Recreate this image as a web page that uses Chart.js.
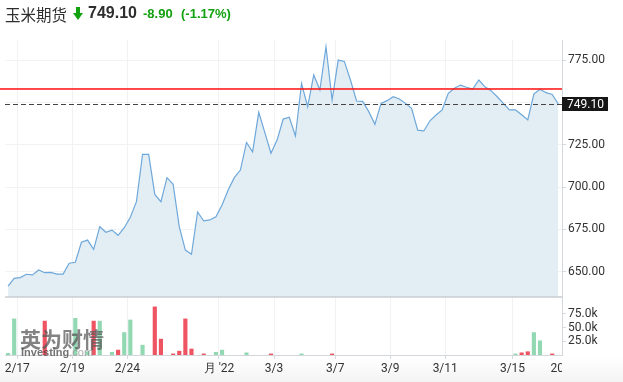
<!DOCTYPE html>
<html>
<head>
<meta charset="utf-8">
<script src="https://cdn.jsdelivr.net/npm/chart.js@4.4.1/dist/chart.umd.min.js"></script>
<style>
  html, body { margin: 0; padding: 0; background: #fff; }
  #wrap { position: relative; width: 623px; height: 382px; overflow: hidden;
          background: linear-gradient(to bottom, #fff 0, #fff 358px, #f3f3f3 382px); }
  canvas { position: absolute; left: 0; top: 0; }
  .hd { position: absolute; top: 4px; white-space: nowrap; }
  #name { left: 5px; top: 3px; font: 15.5px "Noto Sans CJK SC", sans-serif; color: #2e2e2e; }
  #arrow { position: absolute; left: 73px; top: 7px; }
  #last { left: 88px; top: 4px; font: bold 16px "Liberation Sans", Arial, sans-serif; color: #2e2e2e; }
  #chg { left: 143px; top: 6px; font: bold 13px "Liberation Sans", Arial, sans-serif; color: #12a10f; }
  #pct { left: 181px; top: 6px; font: bold 13px "Liberation Sans", Arial, sans-serif; color: #12a10f; }
  #wm1 { position: absolute; left: 20px; top: 323px; font: bold 21px "Noto Sans CJK SC", sans-serif; color: rgba(90,90,90,0.75); }
  #wm2 { position: absolute; left: 21px; top: 346px; font: bold 11px "Liberation Sans", Arial, sans-serif; color: rgba(70,70,70,0.75); }
  #wm2 span { font-weight: normal; color: rgba(140,140,140,0.7); }
</style>
</head>
<body>
<div id="wrap">
  <canvas id="chart" width="623" height="382"></canvas>
  <div class="hd" id="name">玉米期货</div>
  <svg id="arrow" width="10" height="13" viewBox="0 0 10 13"><path d="M3 0 H7 V6 H10 L5 13 L0 6 H3 Z" fill="#12a10f"/></svg>
  <div class="hd" id="last">749.10</div>
  <div class="hd" id="chg">-8.90</div>
  <div class="hd" id="pct">(-1.17%)</div>
  <div id="wm1">英为财情</div>
  <div id="wm2">Investing<span>.com</span></div>
</div>
<script>
// closing prices, one per bar
const prices = [
  641.5, 646.1, 646.5, 648.5, 648.1, 651.0, 649.4, 649.6, 648.6, 648.6,
  655.0, 655.6, 667.4, 668.7, 663.2, 676.6, 673.3, 674.6, 671.5, 676.0,
  682.2, 691.4, 719.4, 719.4, 695.7, 691.4, 705.6, 701.7, 676.6, 662.8,
  660.3, 685.3, 680.1, 680.6, 682.5, 689.4, 698.3, 705.6, 710.1, 726.4,
  720.9, 744.2, 732.2, 720.0, 727.8, 740.2, 741.3, 730.2, 761.3, 747.5,
  766.3, 757.4, 783.0, 751.5, 775.1, 774.3, 763.3, 750.9, 750.7, 744.6,
  737.1, 749.5, 751.1, 753.4, 752.1, 749.5, 746.6, 733.7, 733.2, 739.2,
  742.6, 745.6, 755.4, 758.4, 760.3, 759.0, 758.0, 763.3, 759.3, 757.0,
  753.4, 749.5, 745.6, 745.6, 742.8, 739.7, 755.0, 757.8, 755.8, 754.8,
  749.1
];
// volume per bar (0 = none)
const volumes = [
  3000, 66000, 0, 0, 0, 0, 62000, 0, 0, 0,
  0, 67000, 0, 6000, 62000, 62000, 0, 5000, 9000, 41000,
  64000, 0, 18000, 0, 88000, 29000, 0, 2000, 7000, 66000,
  11000, 0, 2000, 0, 5000, 9000, 0, 0, 0, 4000,
  0, 0, 0, 2000, 0, 0, 0, 0, 2000, 0,
  0, 0, 0, 2000, 0, 0, 0, 0, 0, 0,
  0, 0, 0, 0, 0, 0, 0, 0, 0, 0,
  0, 0, 0, 0, 0, 0, 0, 0, 0, 0,
  0, 0, 0, 2000, 4000, 6000, 41000, 26000, 0, 2000,
  0
];
const tickPos = [1.5, 10.5, 19.5, 34.5, 43.5, 53.5, 62.5, 71.5, 82.5];
const tickLabels = ['2/17', '2/19', '2/24', '月 \'22', '3/3', '3/7', '3/9', '3/11', '3/15'];
const priceTicks = [650, 675, 700, 725, 750, 775];
const volTicks = [25000, 50000, 75000];
const lastPrice = 749.10;
const prevClose = 758.00;

const upColor = '#92d8b3';
const downColor = '#ef5462';
const volColors = volumes.map((v, i) => (i === 0 || prices[i] >= prices[i - 1]) ? upColor : downColor);

const axisFont = { family: 'Roboto, "Liberation Sans", sans-serif', size: 12 };

const overlay = {
  id: 'overlay',
  afterDraw(chart) {
    const { ctx, chartArea, scales } = chart;
    const yP = scales.y;
    ctx.save();
    // panel separator
    ctx.fillStyle = '#c9cdd2';
    ctx.fillRect(chartArea.left, yP.bottom - 0.75, chartArea.right - chartArea.left, 1.5);
    // previous close
    const yr = yP.getPixelForValue(prevClose);
    ctx.fillStyle = '#ff1010';
    ctx.fillRect(0, yr - 0.75, chartArea.right, 1.5);
    // last price
    const yd = Math.round(yP.getPixelForValue(lastPrice)) + 0.5;
    ctx.strokeStyle = '#444';
    ctx.lineWidth = 1;
    ctx.setLineDash([5, 3]);
    ctx.beginPath();
    ctx.moveTo(chartArea.left, yd);
    ctx.lineTo(chartArea.right, yd);
    ctx.stroke();
    ctx.setLineDash([]);
    ctx.fillStyle = '#161616';
    ctx.fillRect(chartArea.right, yd - 7.5, 46, 14);
    ctx.fillStyle = '#fff';
    ctx.font = '12px Roboto, "Liberation Sans", sans-serif';
    ctx.textBaseline = 'middle';
    ctx.textAlign = 'left';
    ctx.fillText(lastPrice.toFixed(2), chartArea.right + 5, yd);
    // cut-off next date label
    ctx.beginPath();
    ctx.rect(0, chartArea.bottom, chartArea.right, 30);
    ctx.clip();
    ctx.fillStyle = '#333';
    ctx.textBaseline = 'top';
    ctx.fillText('20', chartArea.right - 11.5, chartArea.bottom + 8);
    ctx.restore();
  }
};

new Chart(document.getElementById('chart'), {
  data: {
    datasets: [
      {
        type: 'line',
        data: prices.map((p, i) => ({ x: i, y: p })),
        yAxisID: 'y',
        borderColor: '#6ea8da',
        borderWidth: 1.2,
        backgroundColor: '#e3edf4',
        fill: 'start',
        pointRadius: 0,
        tension: 0
      },
      {
        type: 'bar',
        data: volumes.map((v, i) => ({ x: i, y: v || null })),
        yAxisID: 'yVol',
        backgroundColor: volColors,
        barThickness: 3.5
      }
    ]
  },
  options: {
    responsive: false,
    animation: false,
    layout: { padding: { top: 40, left: 5, right: 0, bottom: 0 } },
    plugins: { legend: { display: false }, tooltip: { enabled: false } },
    scales: {
      x: {
        type: 'linear',
        offset: false,
        min: -0.5,
        max: 90.6,
        afterBuildTicks: s => { s.ticks = tickPos.map(v => ({ value: v })); },
        afterFit: s => { s.height = 27; },
        grid: { offset: false, color: '#f0f2f4', tickColor: '#d5d8dc', tickLength: 4 },
        border: { color: '#d3d6da' },
        ticks: {
          autoSkip: false,
          maxRotation: 0,
          padding: 3,
          color: '#333',
          font: axisFont,
          callback: (v, i) => tickLabels[i]
        }
      },
      y: {
        position: 'right',
        stack: 'panes',
        stackWeight: 257,
        min: 635.05,
        max: 786.95,
        afterBuildTicks: s => { s.ticks = priceTicks.map(v => ({ value: v })); },
        afterFit: s => { s.width = 61; },
        grid: { color: '#f0f2f4', tickColor: '#d5d8dc', tickLength: 4 },
        border: { color: '#d3d6da' },
        ticks: {
          autoSkip: false,
          padding: 2,
          color: '#333',
          font: axisFont,
          callback: v => v === 750 ? '' : v.toFixed(2)
        }
      },
      yVol: {
        position: 'right',
        stack: 'panes',
        stackWeight: 58,
        min: 0,
        max: 106000,
        afterBuildTicks: s => { s.ticks = volTicks.map(v => ({ value: v })); },
        afterFit: s => { s.width = 61; },
        grid: { drawOnChartArea: false, tickColor: '#d5d8dc', tickLength: 4 },
        border: { color: '#d3d6da' },
        ticks: {
          autoSkip: false,
          padding: 2,
          color: '#333',
          font: axisFont,
          callback: v => (v / 1000).toFixed(1) + 'k'
        }
      }
    }
  },
  plugins: [overlay]
});
</script>
</body>
</html>
